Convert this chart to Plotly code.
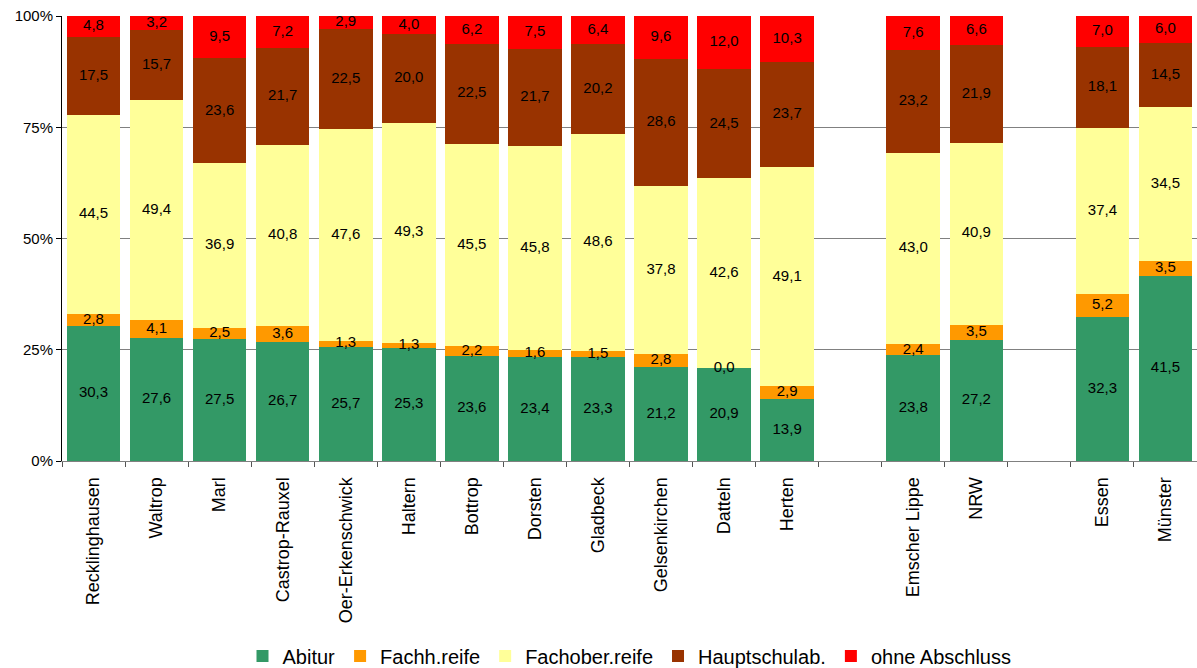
import plotly.graph_objects as go

# Categories; blank entries " " and "  " leave empty slots between groups
categories = ["Recklinghausen", "Waltrop", "Marl", "Castrop-Rauxel", "Oer-Erkenschwick",
              "Haltern", "Bottrop", "Dorsten", "Gladbeck", "Gelsenkirchen", "Datteln",
              "Herten", " ", "Emscher Lippe", "NRW", "  ", "Essen", "Münster"]

abitur = [30.3, 27.6, 27.5, 26.7, 25.7, 25.3, 23.6, 23.4, 23.3, 21.2, 20.9, 13.9,
          None, 23.8, 27.2, None, 32.3, 41.5]
fachh_reife = [2.8, 4.1, 2.5, 3.6, 1.3, 1.3, 2.2, 1.6, 1.5, 2.8, 0.0, 2.9,
               None, 2.4, 3.5, None, 5.2, 3.5]
fachober_reife = [44.5, 49.4, 36.9, 40.8, 47.6, 49.3, 45.5, 45.8, 48.6, 37.8, 42.6, 49.1,
                  None, 43.0, 40.9, None, 37.4, 34.5]
hauptschulab = [17.5, 15.7, 23.6, 21.7, 22.5, 20.0, 22.5, 21.7, 20.2, 28.6, 24.5, 23.7,
                None, 23.2, 21.9, None, 18.1, 14.5]
ohne_abschluss = [4.8, 3.2, 9.5, 7.2, 2.9, 4.0, 6.2, 7.5, 6.4, 9.6, 12.0, 10.3,
                  None, 7.6, 6.6, None, 7.0, 6.0]

series = [
    ("Abitur", abitur, "#339966"),
    ("Fachh.reife", fachh_reife, "#FF9900"),
    ("Fachober.reife", fachober_reife, "#FFFF99"),
    ("Hauptschulab.", hauptschulab, "#993300"),
    ("ohne Abschluss", ohne_abschluss, "#FF0000"),
]

y_ticks = [0, 25, 50, 75, 100]
y_tick_text = ["0%", "25%", "50%", "75%", "100%"]

FONT = "Liberation Sans, Arial, sans-serif"


def fmt(v):
    return f"{v:.1f}".replace(".", ",")


fig = go.Figure()
for name, vals, color in series:
    fig.add_trace(go.Bar(
        x=categories, y=vals, name=name,
        marker=dict(color=color, line=dict(width=0)),
        hoverinfo="x+y+name",
    ))

# Value labels centred in each stacked segment (segments normalised to 100 %)
lab_x, lab_y, lab_t = [], [], []
for i, cat in enumerate(categories):
    vals = [s[1][i] for s in series]
    if vals[0] is None:
        continue
    total = sum(vals)
    base = 0.0
    for v in vals:
        lab_x.append(cat)
        lab_y.append((base + v / 2) / total * 100)
        lab_t.append(fmt(v))
        base += v

fig.add_trace(go.Scatter(
    x=lab_x, y=lab_y, text=lab_t, mode="text", textposition="middle center",
    textfont=dict(family=FONT, size=15, color="black"),
    showlegend=False, hoverinfo="skip", cliponaxis=False,
))

fig.update_layout(
    barmode="stack", barnorm="percent", bargap=0.15,
    width=1197, height=668,
    margin=dict(l=62, r=0, t=16, b=207, autoexpand=False),
    plot_bgcolor="white", paper_bgcolor="white",
    font=dict(family=FONT, color="black"),
    legend=dict(orientation="h", x=0.5, xanchor="center", y=-0.438, yanchor="middle",
                font=dict(size=20), traceorder="normal", itemwidth=30,
                tracegroupgap=0),
    xaxis=dict(type="category", categoryorder="array", categoryarray=categories,
               range=[-0.5, len(categories) - 0.5],
               tickangle=-90, tickfont=dict(size=18), ticklabelstandoff=8,
               ticks="outside", tickson="boundaries", ticklen=5, tickcolor="#555",
               showline=True, linecolor="#808080", linewidth=1, showgrid=False),
    yaxis=dict(range=[0, 100], tickvals=y_ticks, ticktext=y_tick_text,
               tickfont=dict(size=15), ticks="outside", ticklen=5, tickcolor="black",
               showline=True, linecolor="black", linewidth=1,
               showgrid=True, gridcolor="#808080", gridwidth=1, zeroline=False),
)

fig.write_html("out.html")
